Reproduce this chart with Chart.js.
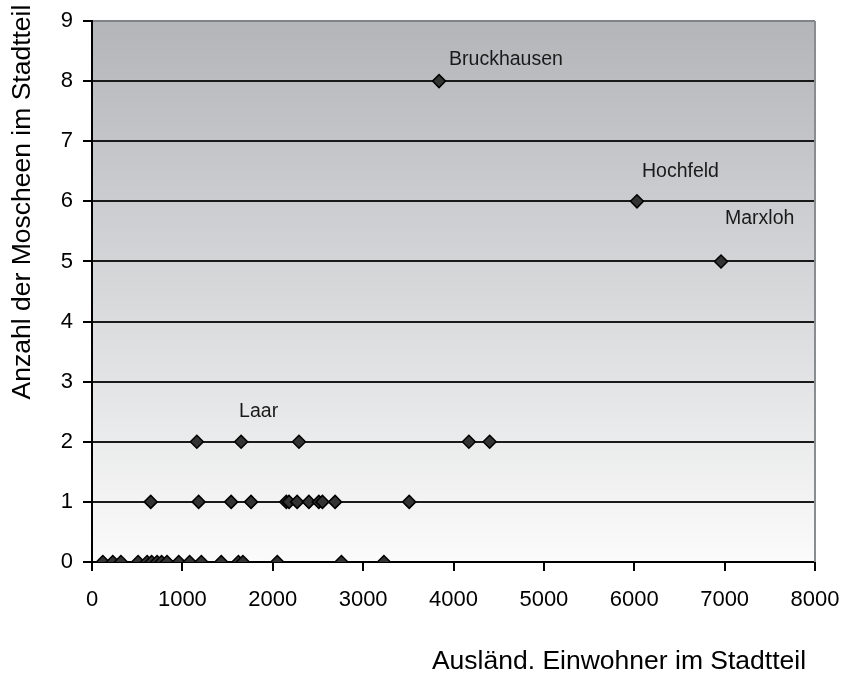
<!DOCTYPE html>
<html>
<head>
<meta charset="utf-8">
<script src="https://cdn.jsdelivr.net/npm/chart.js@4.4.1/dist/chart.umd.min.js"></script>
<style>
  html, body { margin: 0; padding: 0; background: #fff; }
  #wrap { width: 842px; height: 679px; }
</style>
</head>
<body>
<div id="wrap"><canvas id="chart" width="842" height="679"></canvas></div>
<script>
// Ausländische Einwohner (x) und Anzahl Moscheen (y) je Stadtteil
const auslaender = [
    120, 230, 320, 510, 610, 660, 720, 770, 830, 960, 1080, 1210, 1430, 1620, 1670, 2050, 2760, 3230,
    650, 1180, 1540, 1760, 2150, 2180, 2270, 2400, 2510, 2550, 2690, 3510,
    1160, 1650, 2290, 4170, 4400,
    3840, 6030, 6960
];
const moscheen = [
    0, 0, 0, 0, 0, 0, 0, 0, 0, 0, 0, 0, 0, 0, 0, 0, 0, 0,
    1, 1, 1, 1, 1, 1, 1, 1, 1, 1, 1, 1,
    2, 2, 2, 2, 2,
    8, 6, 5
];

// named districts
const labelNames = ['Bruckhausen', 'Hochfeld', 'Marxloh', 'Laar'];
const labelX = [3840, 6030, 6960, 1650];
const labelY = [8, 6, 5, 2];

const xTicks = [0, 1000, 2000, 3000, 4000, 5000, 6000, 7000, 8000];
const yTicks = [0, 1, 2, 3, 4, 5, 6, 7, 8, 9];

const FONT = '"Liberation Sans", Arial, sans-serif';

// label offsets in pixels from the point
const labelOffsets = {
    Bruckhausen: [10, -21],
    Hochfeld: [5, -30],
    Marxloh: [4, -43],
    Laar: [-2, -30]
};

const backgroundPlugin = {
    id: 'plotBackground',
    beforeDraw(chart) {
        const { ctx, chartArea: a } = chart;
        const g = ctx.createLinearGradient(0, a.top, 0, a.bottom);
        g.addColorStop(0, '#b3b5b9');
        g.addColorStop(1, '#fbfbfb');
        ctx.save();
        ctx.fillStyle = g;
        ctx.fillRect(a.left, a.top, a.right - a.left, a.bottom - a.top);
        ctx.restore();
    },
    afterDraw(chart) {
        const { ctx, chartArea: a } = chart;
        ctx.save();
        // right border of plot area
        ctx.strokeStyle = '#8a8d90';
        ctx.lineWidth = 2;
        ctx.beginPath();
        ctx.moveTo(a.right, a.top);
        ctx.lineTo(a.right, a.bottom);
        ctx.stroke();

        // axis titles
        ctx.fillStyle = '#000';
        ctx.font = '26.5px ' + FONT;
        ctx.textAlign = 'center';
        ctx.textBaseline = 'middle';
        ctx.fillText('Ausländ. Einwohner im Stadtteil', 619, 662);
        ctx.translate(23, 202);
        ctx.rotate(-Math.PI / 2);
        ctx.fillText('Anzahl der Moscheen im Stadtteil', 0, 0);
        ctx.restore();
    }
};

const pointLabelPlugin = {
    id: 'pointLabels',
    afterDatasetsDraw(chart) {
        const { ctx, scales } = chart;
        ctx.save();
        ctx.fillStyle = '#1a1a1a';
        ctx.font = '19.5px ' + FONT;
        ctx.textAlign = 'left';
        ctx.textBaseline = 'middle';
        labelNames.forEach((name, i) => {
            const px = scales.x.getPixelForValue(labelX[i]);
            const py = scales.y.getPixelForValue(labelY[i]);
            const off = labelOffsets[name];
            ctx.fillText(name, px + off[0], py + off[1]);
        });
        ctx.restore();
    }
};

const points = auslaender.map((x, i) => ({ x: x, y: moscheen[i] }));

new Chart(document.getElementById('chart').getContext('2d'), {
    type: 'scatter',
    data: {
        datasets: [{
            data: points,
            pointStyle: 'rectRot',
            pointRadius: 6.5,
            pointHoverRadius: 6.5,
            backgroundColor: '#333333',
            borderColor: '#000000',
            borderWidth: 1.5
        }]
    },
    options: {
        responsive: false,
        animation: false,
        layout: { padding: { top: 21, right: 27, left: 0, bottom: 0 } },
        plugins: {
            legend: { display: false },
            tooltip: { enabled: false }
        },
        scales: {
            x: {
                type: 'linear',
                min: 0,
                max: 8000,
                afterFit: s => { s.height = 117; s.paddingLeft = 0; s.paddingRight = 0; },
                afterBuildTicks: s => { s.ticks = xTicks.map(v => ({ value: v })); },
                grid: { drawOnChartArea: false, drawTicks: true, tickLength: 9, tickColor: '#000', lineWidth: 2 },
                border: { color: '#000', width: 2 },
                ticks: {
                    color: '#000', padding: 16, maxRotation: 0,
                    font: { family: FONT, size: 22 },
                    callback: v => String(v)
                }
            },
            y: {
                min: 0,
                max: 9,
                afterFit: s => { s.width = 92; s.paddingTop = 0; s.paddingBottom = 0; },
                afterBuildTicks: s => { s.ticks = yTicks.map(v => ({ value: v })); },
                grid: {
                    color: c => (c.tick && c.tick.value === 9) ? '#808387' : '#1a1a1a',
                    lineWidth: 2,
                    tickLength: 9,
                    tickColor: '#000'
                },
                border: { color: '#000', width: 2 },
                ticks: { color: '#000', padding: 10, font: { family: FONT, size: 22 }, callback: v => String(v) }
            }
        }
    },
    plugins: [backgroundPlugin, pointLabelPlugin]
});
</script>
</body>
</html>
